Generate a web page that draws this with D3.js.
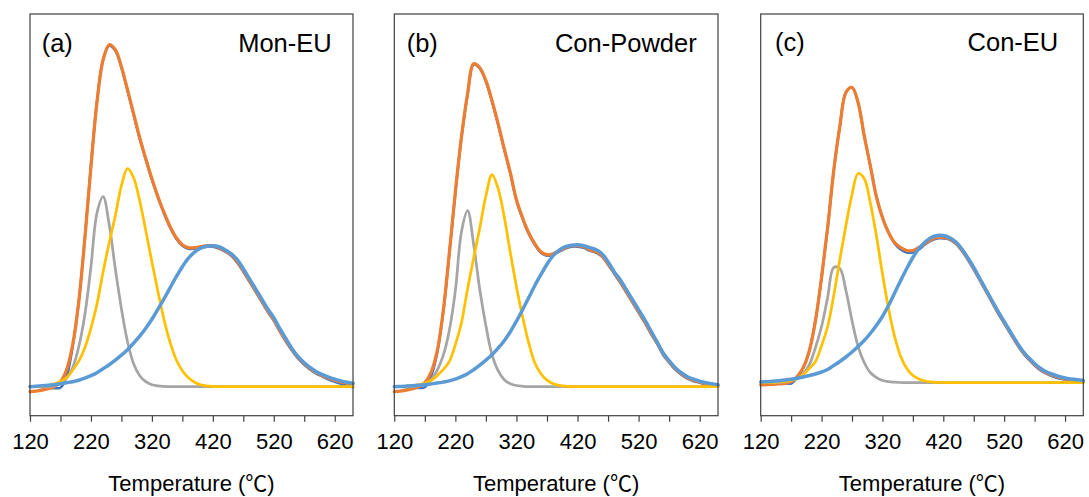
<!DOCTYPE html>
<html>
<head>
<meta charset="utf-8">
<script src="https://cdn.jsdelivr.net/npm/d3@7"></script>
<style>
  html, body { margin: 0; padding: 0; background: #fff; }
  svg { display: block; font-family: "Liberation Sans", Arial, "Noto Sans CJK SC", sans-serif; }
</style>
</head>
<body>
<div id="chart"></div>
<script>
// temperature grid (°C) shared by every curve
const temps = [
  120, 130, 140, 150, 160, 170, 180, 190, 200, 210,
  220, 230, 240, 250, 260, 270, 280, 290, 300, 310,
  320, 330, 340, 350, 360, 370, 380, 390, 400, 410,
  420, 430, 440, 450, 460, 470, 480, 490, 500, 510,
  520, 530, 540, 550, 560, 570, 580, 590, 600, 610,
  620, 630, 640, 650
];

const panelTags = ["(a)", "(b)", "(c)"];
const panelNames = ["Mon-EU", "Con-Powder", "Con-EU"];
const xTicks = [120, 220, 320, 420, 520, 620];
const xMinorTicks = [170, 270, 370, 470, 570];
const yRanges = [[-0.29, 3.727], [-0.29, 3.727], [-0.332, 3.685]];

// (a) Mon-EU
const dataA = [
  0, 0, -0.005, -0.01, -0.015, -0.01, 0.10, 0.40, 0.85, 1.49,
  2.21, 2.86, 3.27, 3.41, 3.36, 3.19, 2.96, 2.72, 2.48, 2.27,
  2.07, 1.89, 1.73, 1.59, 1.48, 1.41, 1.38, 1.38, 1.39, 1.40,
  1.40, 1.38, 1.35, 1.31, 1.24, 1.15, 1.05, 0.95, 0.85, 0.75,
  0.66, 0.55, 0.45, 0.36, 0.28, 0.22, 0.17, 0.13, 0.10, 0.07,
  0.05, 0.03, 0.01, -0.005
];
const fitA = [
  -0.05, -0.045, -0.035, -0.02, 0.0, 0.05, 0.17, 0.42, 0.85, 1.48,
  2.20, 2.85, 3.27, 3.42, 3.37, 3.20, 2.97, 2.73, 2.49, 2.28,
  2.08, 1.90, 1.74, 1.60, 1.49, 1.42, 1.39, 1.39, 1.40, 1.41,
  1.41, 1.39, 1.36, 1.32, 1.25, 1.16, 1.06, 0.96, 0.86, 0.76,
  0.67, 0.56, 0.46, 0.37, 0.29, 0.23, 0.18, 0.14, 0.11, 0.085,
  0.065, 0.048, 0.036, 0.026
];
const peak1A = [
  0, 0, 0, 0, 0.01, 0.035, 0.085, 0.19, 0.40, 0.72,
  1.20, 1.74, 1.90, 1.62, 1.18, 0.78, 0.45, 0.23, 0.11, 0.05,
  0.02, 0.008, 0.003, 0, 0, 0, 0, 0, 0, 0,
  0, 0, 0, 0, 0, 0, 0, 0, 0, 0,
  0, 0, 0, 0, 0, 0, 0, 0, 0, 0,
  0, 0, 0, 0
];
const peak2A = [
  0, 0, 0.005, 0.012, 0.028, 0.053, 0.09, 0.165, 0.255, 0.39,
  0.585, 0.83, 1.15, 1.44, 1.71, 2.01, 2.18, 2.09, 1.86, 1.56,
  1.25, 0.95, 0.67, 0.44, 0.27, 0.16, 0.09, 0.045, 0.02, 0.008,
  0.003, 0, 0, 0, 0, 0, 0, 0, 0, 0,
  0, 0, 0, 0, 0, 0, 0, 0, 0, 0,
  0, 0, 0, 0
];
const peak3A = [
  0, 0.005, 0.01, 0.015, 0.02, 0.03, 0.04, 0.05, 0.065, 0.085,
  0.11, 0.14, 0.18, 0.22, 0.265, 0.315, 0.37, 0.435, 0.505, 0.585,
  0.675, 0.775, 0.88, 0.99, 1.10, 1.20, 1.285, 1.345, 1.385, 1.405,
  1.41, 1.40, 1.37, 1.33, 1.27, 1.18, 1.08, 0.98, 0.88, 0.78,
  0.69, 0.58, 0.48, 0.38, 0.30, 0.24, 0.19, 0.15, 0.12, 0.095,
  0.075, 0.058, 0.045, 0.035
];

// (b) Con-Powder
const dataB = [
  0, 0, -0.005, -0.01, -0.012, -0.005, 0.10, 0.33, 0.74, 1.32,
  1.94, 2.49, 2.92, 3.22, 3.18, 3.05, 2.85, 2.62, 2.37, 2.13,
  1.86, 1.68, 1.53, 1.42, 1.34, 1.31, 1.32, 1.35, 1.38, 1.40,
  1.40, 1.39, 1.36, 1.34, 1.30, 1.22, 1.13, 1.04, 0.94, 0.84,
  0.74, 0.64, 0.53, 0.43, 0.32, 0.24, 0.17, 0.12, 0.08, 0.055,
  0.04, 0.02, 0.008, 0
];
const fitB = [
  -0.05, -0.045, -0.035, -0.02, 0.0, 0.04, 0.14, 0.35, 0.75, 1.33,
  1.95, 2.50, 2.93, 3.23, 3.19, 3.06, 2.86, 2.63, 2.38, 2.14,
  1.87, 1.69, 1.54, 1.43, 1.35, 1.32, 1.33, 1.36, 1.39, 1.41,
  1.41, 1.40, 1.37, 1.35, 1.31, 1.23, 1.14, 1.05, 0.95, 0.85,
  0.75, 0.65, 0.54, 0.44, 0.33, 0.25, 0.18, 0.13, 0.09, 0.065,
  0.045, 0.03, 0.02, 0.012
];
const peak1B = [
  0, 0, 0, 0, 0.01, 0.03, 0.07, 0.16, 0.31, 0.56,
  0.96, 1.55, 1.76, 1.42, 0.97, 0.61, 0.32, 0.16, 0.07, 0.03,
  0.012, 0.005, 0, 0, 0, 0, 0, 0, 0, 0,
  0, 0, 0, 0, 0, 0, 0, 0, 0, 0,
  0, 0, 0, 0, 0, 0, 0, 0, 0, 0,
  0, 0, 0, 0
];
const peak2B = [
  0, 0, 0.005, 0.01, 0.02, 0.035, 0.06, 0.11, 0.17, 0.25,
  0.42, 0.64, 0.98, 1.29, 1.59, 1.91, 2.12, 1.98, 1.70, 1.34,
  1.00, 0.70, 0.44, 0.24, 0.13, 0.065, 0.03, 0.013, 0.005, 0.002,
  0, 0, 0, 0, 0, 0, 0, 0, 0, 0,
  0, 0, 0, 0, 0, 0, 0, 0, 0, 0,
  0, 0, 0, 0
];
const peak3B = [
  0, 0.003, 0.006, 0.01, 0.015, 0.02, 0.028, 0.036, 0.046, 0.058,
  0.075, 0.10, 0.13, 0.17, 0.215, 0.265, 0.32, 0.385, 0.46, 0.55,
  0.655, 0.77, 0.89, 1.01, 1.12, 1.225, 1.31, 1.365, 1.40, 1.415,
  1.42, 1.41, 1.39, 1.37, 1.33, 1.25, 1.15, 1.07, 0.97, 0.87,
  0.77, 0.67, 0.56, 0.45, 0.34, 0.26, 0.19, 0.14, 0.10, 0.075,
  0.055, 0.04, 0.03, 0.02
];

// (c) Con-EU
const dataC = [
  0, 0, -0.002, -0.005, -0.01, -0.01, 0.05, 0.15, 0.32, 0.62,
  1.05, 1.55, 2.12, 2.56, 2.90, 2.95, 2.80, 2.47, 2.17, 1.86,
  1.65, 1.50, 1.39, 1.33, 1.30, 1.30, 1.33, 1.38, 1.42, 1.44,
  1.44, 1.43, 1.39, 1.32, 1.23, 1.13, 1.02, 0.91, 0.80, 0.69,
  0.59, 0.49, 0.39, 0.30, 0.23, 0.17, 0.12, 0.085, 0.06, 0.04,
  0.03, 0.02, 0.01, 0.005
];
const fitC = [
  -0.025, -0.022, -0.018, -0.014, -0.01, 0.01, 0.06, 0.15, 0.32, 0.62,
  1.05, 1.55, 2.12, 2.56, 2.90, 2.95, 2.80, 2.47, 2.17, 1.86,
  1.65, 1.50, 1.40, 1.35, 1.32, 1.32, 1.35, 1.39, 1.43, 1.45,
  1.45, 1.44, 1.40, 1.33, 1.24, 1.14, 1.03, 0.92, 0.81, 0.70,
  0.60, 0.50, 0.40, 0.31, 0.24, 0.18, 0.13, 0.095, 0.07, 0.05,
  0.035, 0.025, 0.018, 0.012
];
const peak1C = [
  0, 0, 0, 0, 0.005, 0.02, 0.04, 0.09, 0.18, 0.35,
  0.56, 0.85, 1.15, 1.14, 0.92, 0.62, 0.36, 0.20, 0.10, 0.05,
  0.02, 0.008, 0.003, 0, 0, 0, 0, 0, 0, 0,
  0, 0, 0, 0, 0, 0, 0, 0, 0, 0,
  0, 0, 0, 0, 0, 0, 0, 0, 0, 0,
  0, 0, 0, 0
];
const peak2C = [
  0, 0, 0, 0.005, 0.01, 0.02, 0.04, 0.08, 0.14, 0.21,
  0.37, 0.56, 0.87, 1.23, 1.57, 1.88, 2.09, 2.04, 1.80, 1.47,
  1.09, 0.74, 0.46, 0.26, 0.14, 0.07, 0.035, 0.015, 0.006, 0.002,
  0, 0, 0, 0, 0, 0, 0, 0, 0, 0,
  0, 0, 0, 0, 0, 0, 0, 0, 0, 0,
  0, 0, 0, 0
];
const peak3C = [
  0.005, 0.008, 0.012, 0.018, 0.025, 0.033, 0.043, 0.055, 0.07, 0.085,
  0.105, 0.13, 0.17, 0.21, 0.255, 0.305, 0.36, 0.42, 0.49, 0.57,
  0.66, 0.77, 0.895, 1.02, 1.14, 1.25, 1.34, 1.405, 1.45, 1.47,
  1.47, 1.45, 1.41, 1.34, 1.25, 1.15, 1.04, 0.93, 0.82, 0.71,
  0.61, 0.51, 0.41, 0.32, 0.25, 0.19, 0.14, 0.105, 0.08, 0.06,
  0.045, 0.035, 0.027, 0.02
];

const panelSeries = [
  [dataA, fitA, peak1A, peak2A, peak3A],
  [dataB, fitB, peak1B, peak2B, peak3B],
  [dataC, fitC, peak1C, peak2C, peak3C]
];

// drawing order: measured, fitted sum, then the three components
const seriesStyle = [
  { color: "#4472C4", width: 2.5 },
  { color: "#ED7D31", width: 3.25 },
  { color: "#A5A5A5", width: 2.75 },
  { color: "#FFC000", width: 2.75 },
  { color: "#5B9BD5", width: 3.5 }
];

const width = 1089;
const height = 497;
const frameTop = 14;
const frameBottom = 415.7;
const frames = [
  { left: 30, right: 353, tagDx: 11.7, nameDx: 21.3, textY: 52 },
  { left: 394.3, right: 718, tagDx: 12.4, nameDx: 21.3, textY: 52 },
  { left: 760.7, right: 1083.3, tagDx: 14.3, nameDx: 25, textY: 50.5 }
];

const svg = d3
  .select("#chart")
  .append("svg")
  .attr("width", width)
  .attr("height", height);

frames.forEach((f, p) => {
  const x = d3.scaleLinear().domain([120, 650]).range([f.left, f.right]);
  const y = d3.scaleLinear().domain(yRanges[p]).range([frameBottom, frameTop]);

  const g = svg.append("g");

  const line = series =>
    d3
      .line()
      .x((d, i) => x(temps[i]))
      .y(d => y(d))
      .curve(d3.curveCatmullRom.alpha(0.5))(series);

  panelSeries[p].forEach((series, s) => {
    g.append("path")
      .attr("d", line(series))
      .attr("fill", "none")
      .attr("stroke", seriesStyle[s].color)
      .attr("stroke-width", seriesStyle[s].width)
      .attr("stroke-linejoin", "round")
      .attr("stroke-linecap", "round");
  });

  g.append("rect")
    .attr("x", f.left)
    .attr("y", frameTop)
    .attr("width", f.right - f.left)
    .attr("height", frameBottom - frameTop)
    .attr("fill", "none")
    .attr("stroke", "#404040")
    .attr("stroke-width", 1.2);

  const axis = g
    .append("g")
    .attr("transform", `translate(0,${frameBottom})`)
    .call(d3.axisBottom(x).tickValues(xTicks).tickSize(6).tickPadding(12).tickFormat(d3.format("d")))
    .call(a => a.select(".domain").remove());
  axis.selectAll("line").attr("stroke", "#404040").attr("stroke-width", 1.2);
  axis.selectAll("text").attr("font-size", 22).attr("fill", "#000").style("font-family", null);

  g.append("g")
    .attr("transform", `translate(0,${frameBottom})`)
    .call(d3.axisBottom(x).tickValues(xMinorTicks).tickSize(6).tickFormat(""))
    .call(a => a.select(".domain").remove())
    .selectAll("line")
    .attr("stroke", "#404040")
    .attr("stroke-width", 1.2);

  g.append("text")
    .attr("x", f.left + f.tagDx)
    .attr("y", f.textY)
    .attr("font-size", 25.5)
    .attr("fill", "#000")
    .text(panelTags[p]);

  g.append("text")
    .attr("x", f.right - f.nameDx)
    .attr("y", f.textY)
    .attr("text-anchor", "end")
    .attr("font-size", 25.5)
    .attr("fill", "#000")
    .text(panelNames[p]);

  g.append("text")
    .attr("x", (f.left + f.right) / 2)
    .attr("y", 490.7)
    .attr("text-anchor", "middle")
    .attr("font-size", 22)
    .attr("fill", "#000")
    .text("Temperature (℃)");
});
</script>
</body>
</html>
